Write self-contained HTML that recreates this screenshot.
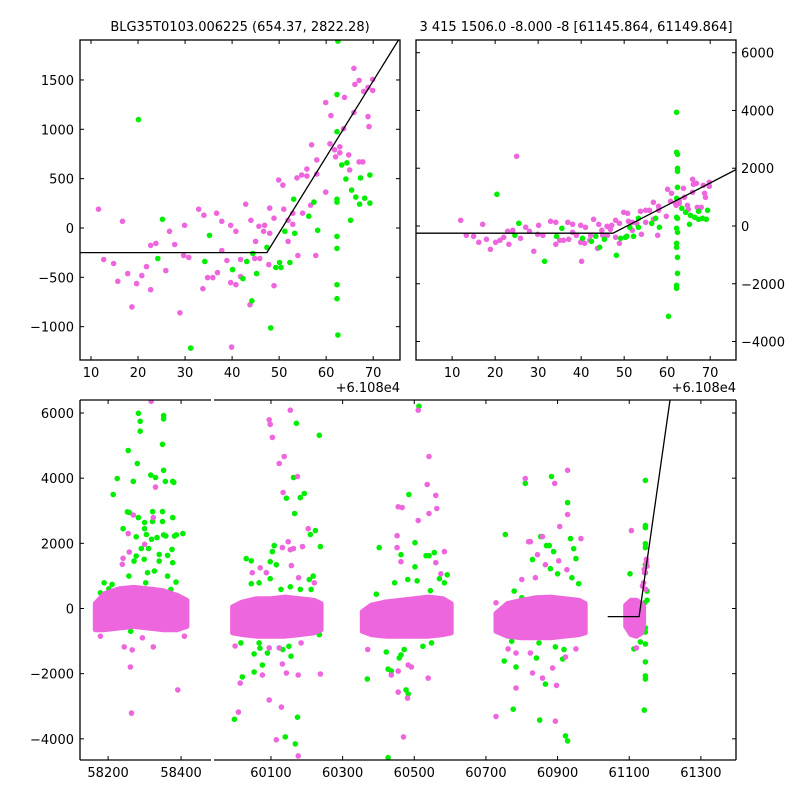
<!DOCTYPE html>
<html><head><meta charset="utf-8"><title>Light curve fit</title>
<style>
html,body{margin:0;padding:0;background:#fff;}
svg{display:block;font-family:"DejaVu Sans","Liberation Sans",sans-serif;}
</style></head>
<body>
<svg id="chart" width="800" height="800" viewBox="0 0 800 800" xmlns="http://www.w3.org/2000/svg">
<rect x="0" y="0" width="800" height="800" fill="#fff"/>
<text x="240" y="31" font-size="13" text-anchor="middle">BLG35T0103.006225 (654.37, 2822.28)</text>
<text x="576" y="31" font-size="13" text-anchor="middle">3 415 1506.0 -8.000 -8 [61145.864, 61149.864]</text>
<g id="layer"></g>
</svg>
<script>
// ---------- DATA ----------
// top-left panel (x offset from 61080, flux)
const tlPinkX=[11.6,12.7,14.8,15.7,16.7,17.8,18.7,19.7,20.8,21.8,22.7,22.7,23.8,25.9,26.7,27.8,28.9,29.7,29.9,30.8,32.9,33.8,34.0,34.8,35.9,36.7,36.9,37.8,37.8,38.9,39.7,39.7,39.9,40.8,40.8,41.8,41.8,42.9,43.8,44.0,44.8,45.0,45.7,45.9,46.7,46.9,47.8,48.0,48.0,48.9,48.9,49.9,50.8,51.0,51.9,51.9,52.9,52.9,53.8,54.0,54.8,55.0,55.9,55.9,56.7,56.9,57.8,58.0,58.0,59.9,59.9,61.0,60.8,61.8,62.0,62.9,62.9,63.9,63.7,64.8,65.0,65.9,65.9,66.1,67.0,67.0,67.8,68.0,68.9,68.9,69.1,69.9,69.9];
const tlPinkY=[190,-320,-360,-540,68,-462,-800,-564,-483,-391,-177,-626,-156,-432,-34,-167,-860,-279,27,-299,190,-615,129,-503,-503,150,-452,68,-228,-330,27,-554,-1207,-34,-575,-320,-493,241,-779,78,-309,-136,17,-309,-34,27,-371,201,-54,-585,99,486,435,190,-136,78,150,37,507,-279,537,150,598,527,231,843,-279,690,547,364,1272,1139,853,792,721,823,762,1323,1006,741,588,1618,1170,1455,1496,670,670,1384,1425,1129,1027,1506,1394];
const tlGreenX=[20.1,25.2,24.2,31.2,35.2,34.2,40.1,42.3,43.1,44.4,44.2,45.2,47.4,48.2,49.3,50.1,50.4,51.2,52.3,53.1,53.3,56.3,57.4,58.2,62.3,62.3,62.3,62.3,62.3,62.3,62.3,62.3,62.5,62.5,63.3,64.4,64.2,65.2,65.4,66.3,67.1,67.3,68.2,69.3,69.3];
const tlGreenY=[1098,88,-309,-1217,-75,-340,-422,-513,-340,-258,-738,-462,-197,-1013,-401,-350,-401,-34,-350,292,-54,119,262,-24,1353,976,292,262,-85,-207,-575,-717,-1085,1894,639,660,496,78,384,313,241,507,302,252,537];
// top-right panel
const trPinkX=[12.0,13.3,15.0,16.2,17.1,18.0,18.9,20.1,21.1,22.0,22.9,23.2,24.1,25.0,25.9,27.1,28.0,29.0,29.9,30.1,31.1,32.9,34.1,34.1,35.0,35.9,36.9,37.1,38.0,38.0,38.9,39.9,39.9,40.1,40.8,41.0,42.0,42.2,42.9,43.8,44.1,44.8,45.0,46.0,46.1,47.1,46.8,48.0,48.0,48.9,48.9,49.9,50.8,51.0,51.9,51.9,52.9,53.8,54.0,55.0,55.0,55.9,56.8,56.8,57.8,58.0,58.0,59.8,60.1,61.0,60.8,61.9,62.1,62.8,62.8,63.8,64.0,64.7,64.9,65.9,65.9,66.1,66.8,67.0,67.9,68.4,68.7,68.9,69.8,69.8];
const trPinkY=[196,-323,-358,-565,58,-462,-808,-565,-496,-392,-185,-635,-150,2412,-427,-46,-185,-877,-288,23,-323,162,127,-635,-496,-496,127,-462,58,-219,-323,23,-565,-1223,-600,-46,-496,-323,231,-773,58,-150,-323,-12,-323,23,-115,196,-392,92,-600,473,438,162,127,-150,92,508,-288,127,542,542,819,231,-323,681,542,335,1269,1131,854,785,715,785,888,1304,992,715,577,1616,1165,1442,1477,646,646,1408,1131,992,1512,1373];
const trGreenX=[20.4,25.5,24.6,31.5,35.5,34.3,40.3,42.4,43.4,44.3,45.4,48.2,49.2,50.3,50.6,51.3,52.2,53.3,53.3,56.4,57.3,58.2,60.3,62.2,62.2,62.4,62.4,62.4,62.4,62.2,62.2,62.4,62.2,62.4,62.2,62.2,62.4,62.4,62.2,62.2,63.4,64.3,65.2,65.4,66.4,67.3,67.3,68.2,69.1,69.4];
const trGreenY=[1096,92,-323,-1223,-81,-358,-427,-531,-358,-738,-462,-1015,-427,-392,-358,-46,-358,265,-46,92,265,-46,-3127,3935,2550,2481,1996,1893,1339,958,300,265,-81,-219,-600,-738,-1085,-1639,-2054,-2158,612,473,58,369,300,231,508,265,231,542];
// bottom panel: dense core envelopes per season (MJD, flux)
const coreT=[[58165,58190,58230,58270,58310,58350,58390,58416],[59993,60020,60060,60100,60140,60180,60220,60240],[60355,60380,60420,60460,60500,60540,60580,60603],[60728,60760,60800,60840,60880,60920,60960,60977],[61090,61105,61120,61135,61140]];
const coreHi=[[150,450,600,650,600,550,400,250],[50,200,300,300,350,300,250,150],[-100,100,200,250,300,350,300,150],[-150,150,250,330,350,300,250,150],[100,250,250,150,50]];
const coreLo=[[-650,-650,-600,-550,-600,-650,-650,-550],[-750,-800,-850,-850,-850,-800,-750,-650],[-700,-800,-850,-850,-850,-850,-800,-750],[-700,-850,-900,-900,-900,-850,-800,-750],[-550,-800,-850,-750,-450]];
// bottom panel scattered points
const bGreenT=[58172,58179,58189,58214,58225,58241,58255,58253,58258,58269,58280,58283,58288,58288,58283,58300,58300,58305,58277,58311,58291,58277,58317,58330,58322,58322,58319,58334,58349,58349,58352,58358,58349,58352,58352,58352,58357,58377,58380,58377,58382,58387,58405,58375,58363,58377,58386,58340,58340,58327,58308,58299,58271,58257,58211,58202,58331,58262,58303,58363,58372,
59998,60020,60053,60076,60053,60069,60031,60045,60045,60098,60115,60104,60109,60098,60154,60140,60168,60174,60163,60166,60171,60182,60193,60210,60224,60235,60238,60207,60218,60212,60182,60143,60128,60067,60067,60016,60090,60150,60156,60133,60235,60174,
60369,60402,60394,60422,60427,60436,60427,60458,60463,60472,60477,60483,60485,60463,60502,60502,60508,60513,60533,60541,60556,60545,60570,60584,60592,60592,60445,60482,60524,60548,
60754,60751,60776,60784,60810,60830,60841,60850,60853,60866,60869,60877,60883,60880,60889,60900,60894,60914,60922,60928,60928,60936,60945,60951,60940,60959,60779,60800,60772,60848,60918,60894,
61102,61113,61131,61145,61145,61145,61145,61145,61145,61145,61150,61150,61145,61145,61145,61145,61145,61145,61142,61143];
const bGreenY=[20,482,790,3500,3990,2450,4850,2965,2945,3900,4450,5990,5745,5440,2790,2640,2450,2270,2200,1840,1840,1610,4095,4020,2975,2670,2125,2175,2975,2670,2260,2225,5040,4240,5920,5820,3900,3900,3870,2790,2225,2260,2300,1815,1630,1405,810,1660,1455,1150,1100,1510,1455,995,740,605,480,-700,790,995,585,
-3400,-2100,-1950,-1735,-1395,-1220,1530,1465,760,1435,1345,1745,1930,915,665,-3940,-4155,-3335,4020,2915,5685,3405,3530,2270,2390,5315,1900,890,995,585,585,3385,585,790,-1055,-1055,-1365,-1160,-1465,-1260,-800,-750,
-2165,1870,440,-1335,-1860,-1920,-4575,-1520,-1425,-1260,-2500,-2625,3500,1650,2020,1280,850,6210,1620,1620,1715,545,915,790,1035,175,790,890,-1160,-1055,
2270,-1610,-3090,-1795,3840,1500,-1520,-3425,2205,-2320,1930,1930,4050,1220,1745,1065,-1180,-1550,-3910,-4065,3250,2145,1835,1530,945,760,535,330,-1005,-1055,-1260,-440,
1065,-1240,-1025,3930,2545,2480,1990,1870,1345,1100,535,255,-595,-720,-1090,-1640,-2070,-2165,-3120,175];
const bPinkT=[58318,58330,58324,58269,58255,58258,58241,58239,58264,58261,58244,58266,58294,58324,58391,58409,58179,58300,
60009,60014,60000,60048,60070,60087,60095,60098,60104,60123,60137,60154,60134,60174,60148,60132,60154,60163,60188,60204,60157,60177,60095,60123,60095,60115,60129,60132,60143,60176,60176,60238,60076,60221,60184,
60455,60466,60452,60452,60463,60511,60511,60541,60536,60541,60560,60563,60584,60560,60574,60455,60455,60481,60470,60492,60539,60436,60483,60370,
60728,60728,60784,60784,60810,60819,60824,60844,60858,60892,60928,60928,60906,60903,60926,60965,60866,60830,60858,60886,60897,60894,60922,60951,60824,60762,60800,60838,
61106,61120,61095,61148,61150,61143,61140,61146,61148,61142,61137];
const bPinkY=[6360,3725,2790,2870,2300,1735,1540,1355,-3210,-1795,-1180,-1270,-900,-1180,-2500,-850,-850,1970,
-3180,-2290,-1150,1100,1250,1100,5790,5650,5250,4450,4665,6085,3560,4050,2050,1870,1805,1840,1900,2450,1315,945,-1210,-1210,-2810,-4030,-3025,-1705,-1980,-2040,-4525,-2010,-2040,790,-1055,
3120,3100,2235,1870,1435,2700,6085,4665,3805,2915,3470,3070,1745,1405,1065,-2565,-1920,-2750,-3940,-1795,-2135,-2040,-1735,-1260,
-3315,175,-2440,-1365,3990,2050,2050,1650,2205,3840,4240,2885,2515,1465,1190,2145,1345,-1980,-2135,-1825,-2360,-3460,-1490,-1240,-1365,-1240,890,945,
2390,-1210,-595,1510,1300,1100,790,585,1405,1200,690];
// model: flat baseline then linear rise (MJD)
const modelBase=-250;
const modelBreak=61127.4;
const modelSlope=77;
const xOffset=61080;
const tlXTicks=[10,20,30,40,50,60,70];
const tlYTicks=[-1000,-500,0,500,1000,1500];
const trYTicks=[-4000,-2000,0,2000,4000,6000];
const bYTicks=[-4000,-2000,0,2000,4000,6000];
const bLeftTicks=[58200,58400];
const bRightTicks=[60100,60300,60500,60700,60900,61100,61300];

// ---------- DRAWING ----------
const NS='http://www.w3.org/2000/svg';
const layer=document.getElementById('layer');
const PINK='#ee66dd', GREEN='#00ee00';
function mk(tag,attrs,parent){const e=document.createElementNS(NS,tag);for(const k in attrs)e.setAttribute(k,attrs[k]);(parent||layer).appendChild(e);return e;}
function scale(d0,d1,r0,r1){return v=>r0+(v-d0)/(d1-d0)*(r1-r0);}
function fmt(v){return v<0?'\u2212'+Math.abs(v):String(v);}
let clipN=0;
function clipFor(x,y,w,h){const id='c'+(clipN++);const cp=mk('clipPath',{id:id});mk('rect',{x:x,y:y,width:w,height:h},cp);return 'url(#'+id+')';}

function dots(g,xs,ys,sx,sy,color,name){
  for(let i=0;i<xs.length;i++){
    const c=mk('circle',{cx:sx(xs[i]).toFixed(1),cy:sy(ys[i]).toFixed(1),r:2.8,fill:color},g);
    
    
  }
}
function modelY(t){return t<modelBreak?modelBase:modelBase+modelSlope*(t-modelBreak);}
// t0,t1 in MJD; off = offset subtracted for the axis coordinates
function modelLine(g,t0,t1,off,sx,sy){
  const pts=[[t0,modelY(t0)],[modelBreak,modelBase],[t1,modelY(t1)]];
  const l=mk('polyline',{points:pts.map(p=>sx(p[0]-off).toFixed(1)+','+sy(p[1]).toFixed(1)).join(' '),fill:'none',stroke:'#000','stroke-width':1.3},g);
  
  
}
function ticksX(g,vals,sx,yTop,yBot,labels,name){
  vals.forEach(v=>{const x=sx(v);
    mk('line',{x1:x,y1:yTop,x2:x,y2:yTop+4,stroke:'#000','stroke-width':1},g);
    mk('line',{x1:x,y1:yBot,x2:x,y2:yBot-4,stroke:'#000','stroke-width':1},g);
    if(labels){const t=mk('text',{x:x,y:yBot+17,'font-size':13,'text-anchor':'middle'},g);t.textContent=fmt(v);
      
      }
  });
}
function ticksY(g,vals,sy,xL,xR,side,name,leftTicks,rightTicks){
  vals.forEach(v=>{const y=sy(v);
    if(leftTicks)mk('line',{x1:xL,y1:y,x2:xL+4,y2:y,stroke:'#000','stroke-width':1},g);
    if(rightTicks)mk('line',{x1:xR,y1:y,x2:xR-4,y2:y,stroke:'#000','stroke-width':1},g);
    if(side){const t=side==='left'?mk('text',{x:xL-6,y:y+5,'font-size':13,'text-anchor':'end'},g):mk('text',{x:xR+5,y:y+5,'font-size':13,'text-anchor':'start'},g);
      t.textContent=fmt(v);
      
      }
  });
}

// ---- top-left panel
(function(){
  const X=80,Y=40,W=320,H=320;
  const sx=scale(7.66,75.7,X,X+W), sy=scale(-1338,1905,Y+H,Y);
  const g=mk('g',{});
  const pg=mk('g',{'clip-path':clipFor(X,Y,W,H)},g);
  dots(pg,tlPinkX,tlPinkY,sx,sy,PINK,'pink-point');
  dots(pg,tlGreenX,tlGreenY,sx,sy,GREEN,'green-point');
  modelLine(pg,xOffset+7.66,xOffset+75.7,xOffset,sx,sy);
  mk('rect',{x:X,y:Y,width:W,height:H,fill:'none',stroke:'#000','stroke-width':1.3},g);
  ticksX(g,tlXTicks,sx,Y,Y+H,true,'x-tick-label');
  ticksY(g,tlYTicks,sy,X,X+W,'left','y-tick-label',true,true);
  const o=mk('text',{x:X+W,y:Y+H+32,'font-size':13,'text-anchor':'end'},g);o.textContent='+6.108e4';
  
})();
// ---- top-right panel
(function(){
  const X=416,Y=40,W=320,H=320;
  const sx=scale(1.6,76,X,X+W), sy=scale(-4640,6440,Y+H,Y);
  const g=mk('g',{});
  const pg=mk('g',{'clip-path':clipFor(X,Y,W,H)},g);
  dots(pg,trPinkX,trPinkY,sx,sy,PINK,'pink-point');
  dots(pg,trGreenX,trGreenY,sx,sy,GREEN,'green-point');
  modelLine(pg,xOffset+1.6,xOffset+76,xOffset,sx,sy);
  mk('rect',{x:X,y:Y,width:W,height:H,fill:'none',stroke:'#000','stroke-width':1.3},g);
  ticksX(g,tlXTicks,sx,Y,Y+H,true,'x-tick-label');
  ticksY(g,trYTicks,sy,X,X+W,'right','y-tick-label',true,true);
  const o=mk('text',{x:X+W,y:Y+H+32,'font-size':13,'text-anchor':'end'},g);o.textContent='+6.108e4';
  
})();
// ---- bottom broken-axis panel
(function(){
  const Y=400,H=360;
  const sy=scale(-4650,6399,Y+H,Y);
  const panels=[{X:80,W:131,t0:58123,t1:58482,ticks:bLeftTicks},{X:214,W:522,t0:59941,t1:61398,ticks:bRightTicks}];
  const g=mk('g',{});
  panels.forEach((p,pi)=>{
    const sx=scale(p.t0,p.t1,p.X,p.X+p.W);
    const pg=mk('g',{'clip-path':clipFor(p.X,Y,p.W,H)},g);
    dots(pg,bGreenT,bGreenY,sx,sy,GREEN,'green-point');
    coreT.forEach((ts,si)=>{
      const pts=ts.map((t,i)=>sx(t).toFixed(1)+','+sy(coreHi[si][i]).toFixed(1));
      for(let i=ts.length-1;i>=0;i--)pts.push(sx(ts[i]).toFixed(1)+','+sy(coreLo[si][i]).toFixed(1));
      const poly=mk('polygon',{points:pts.join(' '),fill:PINK,stroke:PINK,'stroke-width':5,'stroke-linejoin':'round'},pg);
      
      
    });
    dots(pg,bPinkT,bPinkY,sx,sy,PINK,'pink-point');
    if(pi===1)modelLine(pg,61040,61398,0,sx,sy);
    mk('line',{x1:p.X,y1:Y,x2:p.X+p.W,y2:Y,stroke:'#000','stroke-width':1.3},g);
    mk('line',{x1:p.X,y1:Y+H,x2:p.X+p.W,y2:Y+H,stroke:'#000','stroke-width':1.3},g);
    if(pi===0){mk('line',{x1:p.X,y1:Y,x2:p.X,y2:Y+H,stroke:'#000','stroke-width':1.3},g);ticksY(g,bYTicks,sy,p.X,p.X+p.W,'left','y-tick-label',true,false);}
    else{mk('line',{x1:p.X+p.W,y1:Y,x2:p.X+p.W,y2:Y+H,stroke:'#000','stroke-width':1.3},g);ticksY(g,bYTicks,sy,p.X,p.X+p.W,null,'y-tick-label',false,true);}
    ticksX(g,p.ticks,sx,Y,Y+H,true,'x-tick-label');
  });
})();
</script>
</body></html>
